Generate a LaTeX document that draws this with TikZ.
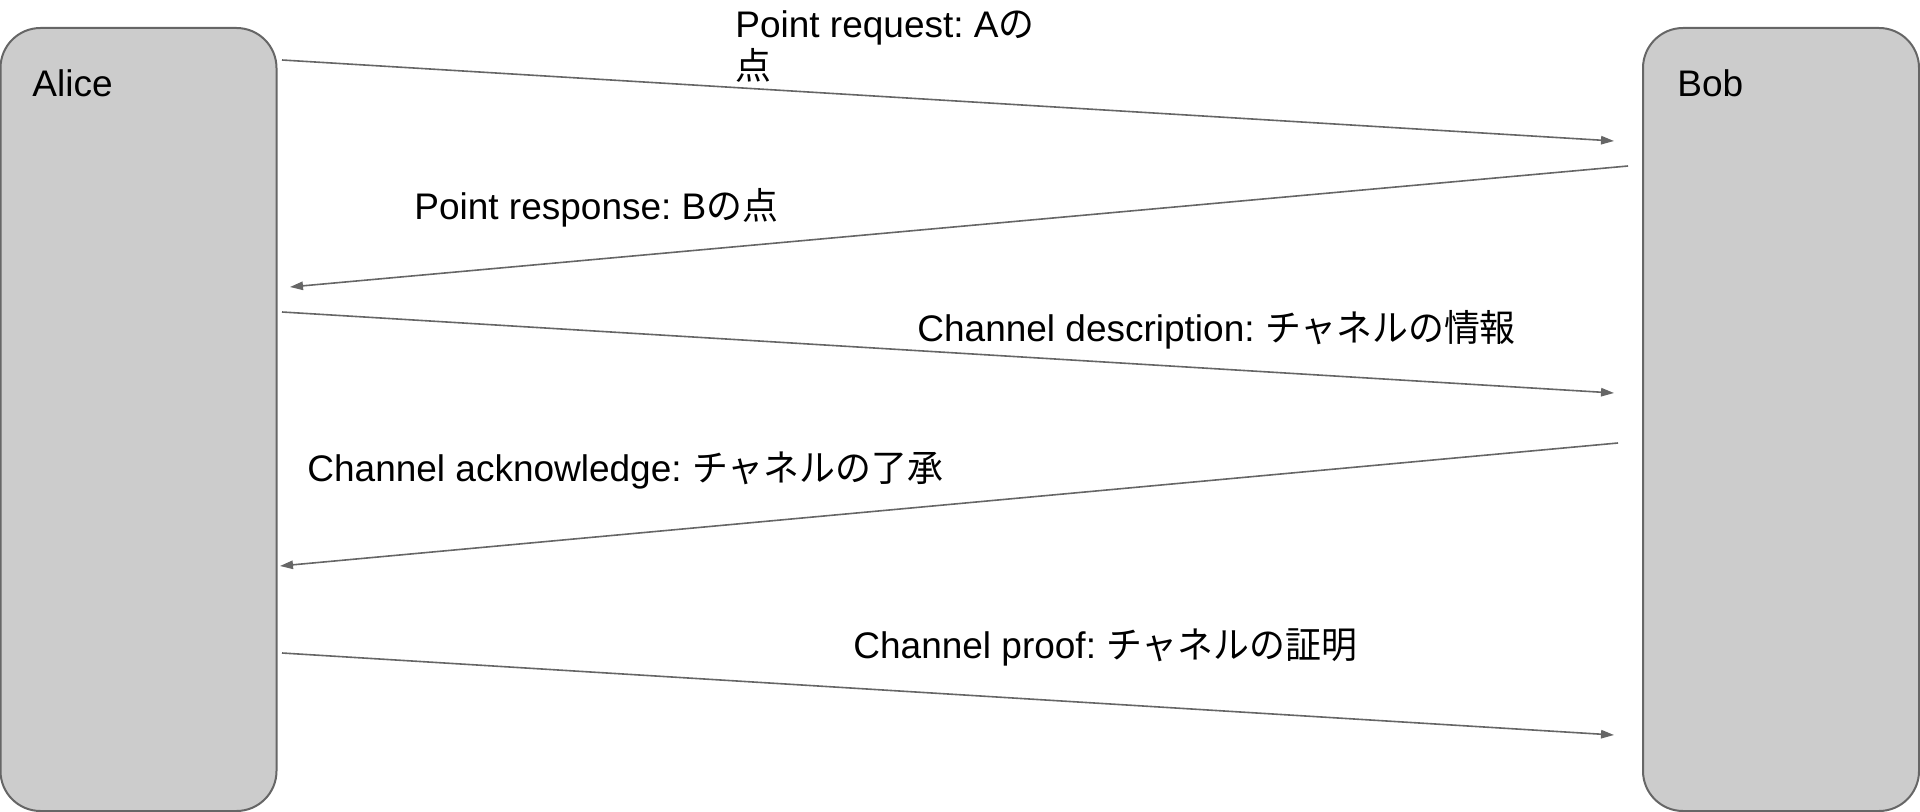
\documentclass[tikz,border=0pt]{standalone}
\usepackage{fontspec}
\setmainfont{Liberation Sans}
\newfontfamily\jp[FakeStretch=0.97]{Noto Sans CJK JP}
\frenchspacing
\usetikzlibrary{arrows.meta}
\definecolor{boxfill}{HTML}{CCCCCC}
\definecolor{edge}{HTML}{666666}
\tikzset{
  actorbox/.style={draw=edge, fill=boxfill, line width=1pt, rounded corners=20pt,
    anchor=north west, outer sep=0pt, inner sep=0pt,
    minimum width=138pt, minimum height=391.5pt},
  actorname/.style={anchor=base west, inner sep=0pt, font=\fontsize{18.5}{21.3}\selectfont},
  msglabel/.style={anchor=base west, inner sep=0pt, align=left, font=\fontsize{18.5}{21.3}\selectfont},
  msg/.style={draw=edge, line width=0.8pt, -{Triangle[length=6.5pt,width=4.2pt]}}
}
\begin{document}
\begin{tikzpicture}[x=0.5pt, y=-0.5pt]
\useasboundingbox (0,0) rectangle (1920,812);

% participants
\node[actorbox] (alice) at (0.5,28) {};
\node[actorbox] (bob) at (1643,28) {};
\node[actorname] (alicename) at (32,97) {Alice};
\node[actorname] (bobname) at (1677,97) {Bob};

% message end points
\coordinate (m1s) at (282,60);   \coordinate (m1e) at (1614,141);
\coordinate (m2s) at (1628,166); \coordinate (m2e) at (290,287);
\coordinate (m3s) at (282,312);  \coordinate (m3e) at (1614,393);
\coordinate (m4s) at (1618,443); \coordinate (m4e) at (280,566);
\coordinate (m5s) at (282,653);  \coordinate (m5e) at (1614,735);

\draw[msg] (m1s) -- (m1e);
\draw[msg] (m2s) -- (m2e);
\draw[msg] (m3s) -- (m3e);
\draw[msg] (m4s) -- (m4e);
\draw[msg] (m5s) -- (m5e);

% message labels (a two-line label sits on the baseline of its last line)
\node[msglabel] (l1) at (735,80) {Point request: A{\jp の}\\{\jp 点}};
\node[msglabel] (l2) at (414,220) {Point response: B{\jp の点}};
\node[msglabel] (l3) at (917,342) {Channel description: {\jp チャネルの情報}};
\node[msglabel] (l4) at (307,481) {Channel acknowledge: {\jp チャネルの了承}};
\node[msglabel] (l5) at (853,658) {Channel proof: {\jp チャネルの証明}};
\end{tikzpicture}
\end{document}
